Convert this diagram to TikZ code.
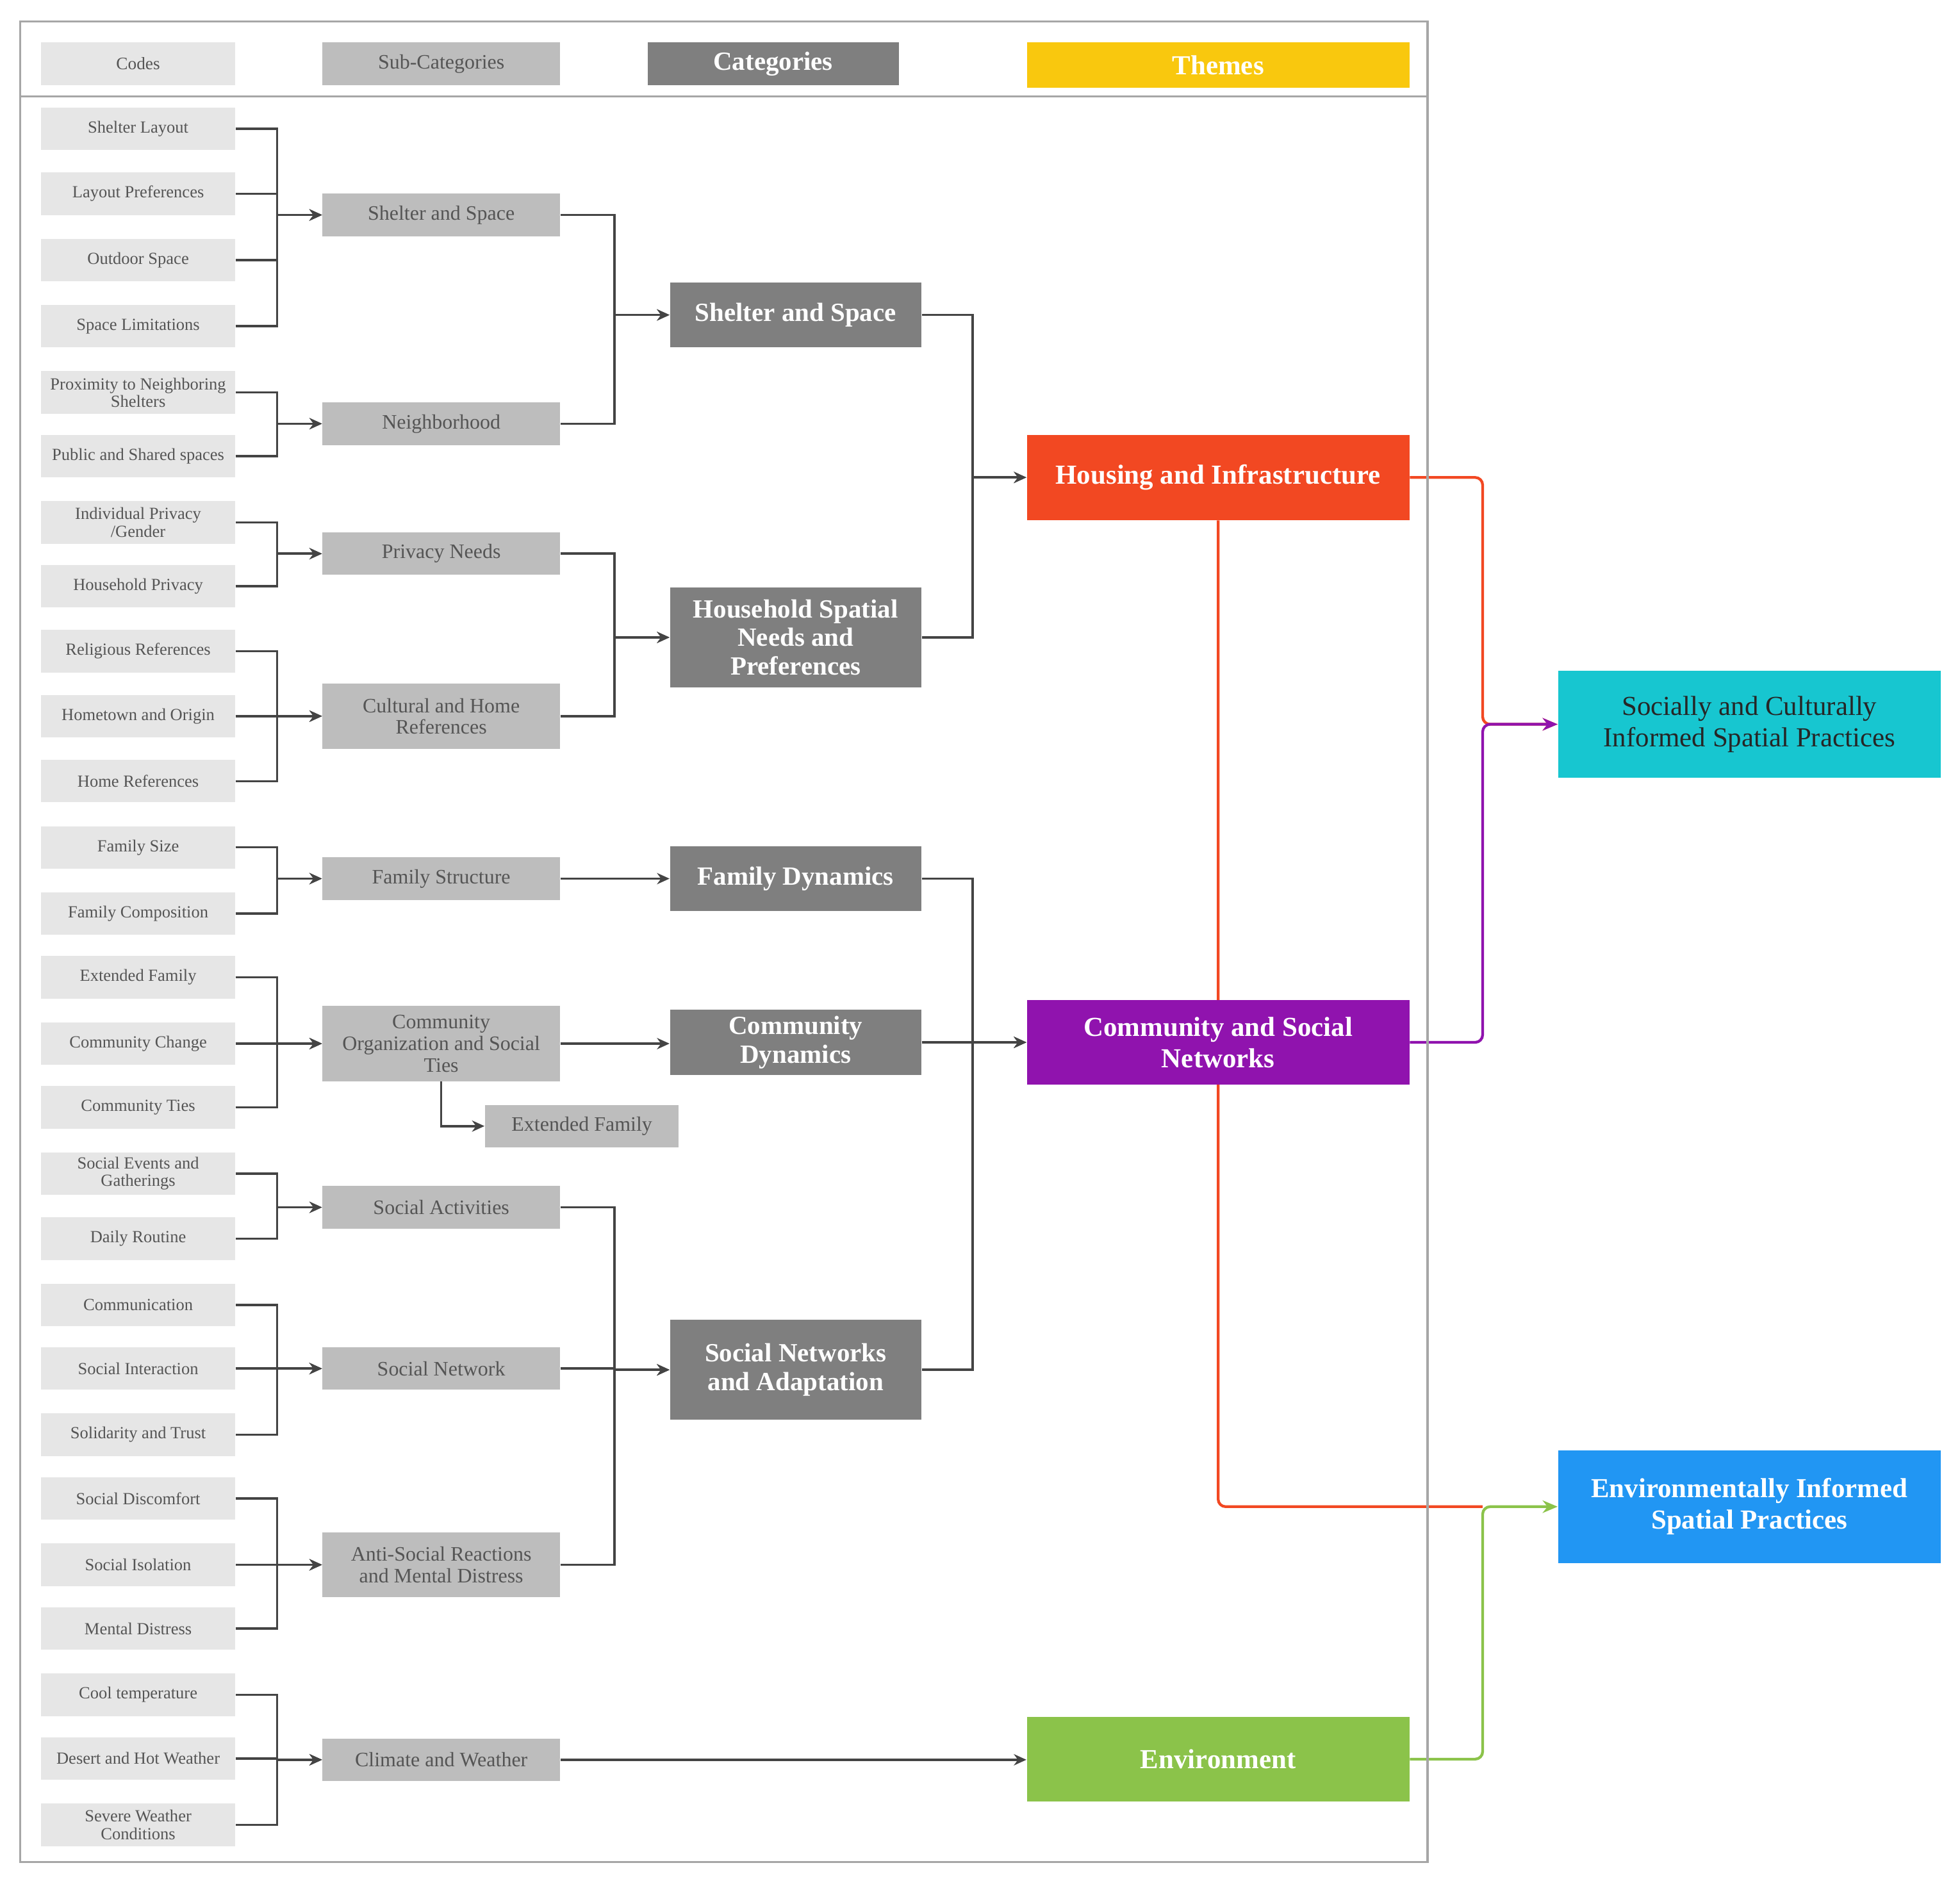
\documentclass[tikz,border=0pt]{standalone}
\usepackage{fontspec}
\setmainfont{Liberation Serif}
\usetikzlibrary{arrows.meta,backgrounds}
\definecolor{codef}{HTML}{E6E6E6}
\definecolor{subf}{HTML}{BDBDBD}
\definecolor{catf}{HTML}{7F7F7F}
\definecolor{txt}{HTML}{555555}
\definecolor{ln}{HTML}{444444}
\definecolor{thy}{HTML}{F9C80E}
\definecolor{thr}{HTML}{F24822}
\definecolor{thp}{HTML}{9013AE}
\definecolor{thg}{HTML}{8BC34A}
\definecolor{outc}{HTML}{17C6D0}
\definecolor{outb}{HTML}{2196F3}
\tikzset{
 box/.style={draw=none,inner sep=1pt,align=center},
 code/.style={box,fill=codef,text=txt,minimum width=77.5pt,minimum height=17pt,font=\fontsize{6.8}{7}\selectfont},
 sub/.style={box,fill=subf,text=txt,minimum width=95pt,minimum height=17pt,font=\fontsize{8.2}{8.6}\selectfont},
 cat/.style={box,fill=catf,text=white,minimum width=100.5pt,minimum height=26pt,font=\fontsize{10.5}{11.5}\selectfont\bfseries},
 th/.style={box,text=white,minimum width=153pt,minimum height=34pt,font=\fontsize{11}{12.5}\selectfont\bfseries},
 outbox/.style={box,minimum width=153pt,font=\fontsize{11}{12.5}\selectfont},
 arr/.style={draw=ln,line width=0.9pt,-{Stealth[length=5pt,width=4.5pt]}},
}
\begin{document}
\begin{tikzpicture}[x=0.5pt,y=-0.5pt]
\useasboundingbox (0,0) rectangle (1568,1503);
\draw[gray!70,line width=0.8pt] (16,17) rectangle (1142,1490);
\draw[gray!70,line width=0.8pt] (16,77) -- (1142,77);
% headers
\node[code,font=\fontsize{7}{8}\selectfont] (hcode) at (110.5,51) {Codes};
\node[sub] (hsub) at (353,51) {Sub-Categories};
\node[cat,minimum height=17pt] (hcat) at (618.5,51) {Categories};
\node[th,fill=thy,minimum height=18pt] (hth) at (974.5,52) {Themes};
% codes
\foreach \n/\y/\t in {1/103/{Shelter Layout},2/155/{Layout Preferences},3/208/{Outdoor Space},4/261/{Space Limitations},5/314/{Proximity to Neighboring\\Shelters},6/365/{Public and Shared spaces},7/418/{Individual Privacy\\/Gender},8/469/{Household Privacy},9/521/{Religious References},10/573/{Hometown and Origin},11/625/{Home References},12/678/{Family Size},13/731/{Family Composition},14/782/{Extended Family},15/835/{Community Change},16/886/{Community Ties},17/939/{Social Events and\\Gatherings},18/991/{Daily Routine},19/1044/{Communication},20/1095/{Social Interaction},21/1148/{Solidarity and Trust},22/1199/{Social Discomfort},23/1252/{Social Isolation},24/1303/{Mental Distress},25/1356/{Cool temperature},26/1407/{Desert and Hot Weather},27/1460/{Severe Weather\\Conditions}}
 {\node[code] (c\n) at (110.5,\y) {\t};}
% sub-categories
\node[sub] (s1) at (353,172) {Shelter and Space};
\node[sub] (s2) at (353,339) {Neighborhood};
\node[sub] (s3) at (353,443) {Privacy Needs};
\node[sub,minimum height=26pt] (s4) at (353,573) {Cultural and Home\\References};
\node[sub] (s5) at (353,703) {Family Structure};
\node[sub,minimum height=30pt] (s6) at (353,835) {Community\\Organization and Social\\Ties};
\node[sub] (s7) at (353,966) {Social Activities};
\node[sub] (s8) at (353,1095) {Social Network};
\node[sub,minimum height=26pt] (s9) at (353,1252) {Anti-Social Reactions\\and Mental Distress};
\node[sub] (s10) at (353,1408) {Climate and Weather};
\node[sub,minimum width=77.5pt] (s11) at (465.5,901) {Extended Family};
% categories
\node[cat] (k1) at (636.5,252) {Shelter and Space};
\node[cat,minimum height=40pt] (k2) at (636.5,510) {Household Spatial\\Needs and\\Preferences};
\node[cat] (k3) at (636.5,703) {Family Dynamics};
\node[cat] (k4) at (636.5,834) {Community\\Dynamics};
\node[cat,minimum height=40pt] (k5) at (636.5,1096) {Social Networks\\and Adaptation};
% themes
\node[th,fill=thr] (t1) at (974.5,382) {Housing and Infrastructure};
\node[th,fill=thp] (t2) at (974.5,834) {Community and Social\\Networks};
\node[th,fill=thg] (t3) at (974.5,1407.5) {Environment};
% outcomes
\node[outbox,fill=outc,text=black!85,minimum height=43pt] (o1) at (1399.5,579.5) {Socially and Culturally\\Informed Spatial Practices};
\node[outbox,fill=outb,text=white,font=\fontsize{11}{12.5}\selectfont\bfseries,minimum height=45pt] (o2) at (1399.5,1205.5) {Environmentally Informed\\Spatial Practices};
\begin{scope}[on background layer]
\foreach \a/\b in {1/1,2/1,3/1,4/1,5/2,6/2,7/3,8/3,9/4,10/4,11/4,12/5,13/5,14/6,15/6,16/6,17/7,18/7,19/8,20/8,21/8,22/9,23/9,24/9,25/10,26/10,27/10}
 {\draw[arr] (c\a.east) -| ([xshift=-18pt]s\b.west) -- (s\b.west);}
\foreach \a/\b in {1/1,2/1,3/2,4/2,7/5,8/5,9/5}
 {\draw[arr] (s\a.east) -| ([xshift=-22pt]k\b.west) -- (k\b.west);}
\draw[arr] (s5.east) -- (k3.west);
\draw[arr] (s6.east) -- (s6.east -| k4.west);
\draw[arr] (s6.south) |- (s11.west);
\draw[arr] (s10.east) -- (s10.east -| t3.west);
\foreach \a/\b in {1/1,2/1,3/2,4/2,5/2}
 {\draw[arr] (k\a.east) -| ([xshift=-21.5pt]t\b.west) -- (t\b.west);}
\draw[thr,line width=1.1pt,rounded corners=3pt] (t1.south) |- ([xshift=-30pt]o2.west);
\draw[thr,line width=1.1pt,rounded corners=3pt,-{Stealth[length=6pt,width=5pt]}] (t1.east) -| ([xshift=-30pt]o1.west) -- (o1.west);
\draw[thp,line width=1.1pt,rounded corners=3pt,-{Stealth[length=6pt,width=5pt]}] (t2.east) -| ([xshift=-30pt]o1.west) -- (o1.west);
\draw[thg,line width=1.1pt,rounded corners=3pt,-{Stealth[length=6pt,width=5pt]}] (t3.east) -| ([xshift=-30pt]o2.west) -- (o2.west);
\end{scope}
\end{tikzpicture}
\end{document}
